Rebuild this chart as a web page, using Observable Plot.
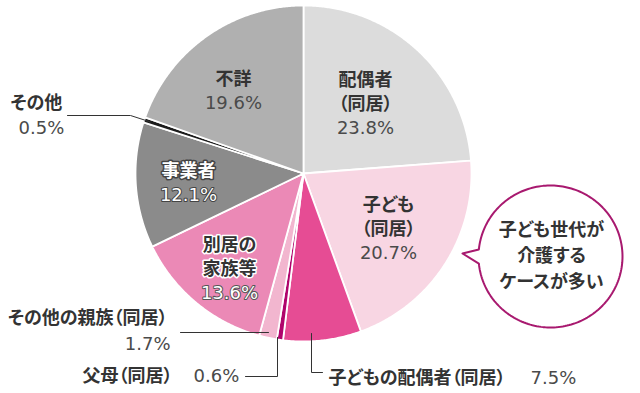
<!DOCTYPE html>
<html><head><meta charset="utf-8">
<script src="https://cdn.jsdelivr.net/npm/d3@7"></script>
<script src="https://cdn.jsdelivr.net/npm/@observablehq/plot@0.6"></script>
<style>
html,body{margin:0;padding:0;background:#fff;}
</style>
</head><body>
<div id="chart"></div>
<script>
// ---- data ----
const categories = ["配偶者（同居）","子ども（同居）","子どもの配偶者（同居）","父母（同居）","その他の親族（同居）","別居の家族等","事業者","その他","不詳"];
const values = [23.8, 20.7, 7.5, 0.6, 1.7, 13.6, 12.1, 0.5, 19.6];
const bubbleLines = ["子ども世代が","介護する","ケースが多い"];

// ---- styles / layout ----
const colors = ["#dcdcdc","#f8d6e3","#e64c94","#b0046c","#f2b6cf","#eb89b6","#8b8b8b","#1c1c1c","#b0b0b0"];
const W = 640, H = 393, cx = 303, cy = 173, R = 168;
const inside = [
  {i:0, lines:["配偶者","（同居）"], dx:62, dy:-45, fill:"#333", halo:null, pfill:"#4a4a4a"},
  {i:1, lines:["子ども","（同居）"], dx:85, dy:80, fill:"#333", halo:null, pfill:"#4a4a4a"},
  {i:5, lines:["別居の","家族等"], dx:-74, dy:120, fill:"#333", halo:"#fff", pfill:"#fff", phalo:"#555"},
  {i:6, lines:["事業者"], dx:-115, dy:22, fill:"#fff", halo:"#444", pfill:"#fff", phalo:"#444"},
  {i:8, lines:["不詳"], dx:-70, dy:-70, fill:"#333", halo:null, pfill:"#4a4a4a"}
];
const outside = [
  {i:7, name:[10,103,"start"], pct:[18,128,"start"], leader:[[67,115],[130,115]]},
  {i:4, name:[167,318,"end"], pct:[170,344,"end"], leader:[[180,332],[268,332]]},
  {i:3, name:[172,376,"end"], pct:[193,376,"start"], leader:[[245,376],[277,376],[277,337]]},
  {i:2, name:[328,378,"start"], pct:[530,378,"start"], leader:[[311,333],[311,372],[322,372]]}
];
const bubble = {cx:550, cy:256, rx:72, ry:71, tip:[462,253], halfBase:0.1, stroke:"#a8196f"};

// ---- geometry from values ----
const total = d3.sum(values);
let acc = 0;
const slices = values.map((v, i) => {
  const a0 = acc / total * 2 * Math.PI; acc += v;
  const a1 = acc / total * 2 * Math.PI;
  return {cat: categories[i], v, a0, a1, mid: (a0 + a1) / 2};
});
const pt = (a, r) => [cx + r * Math.sin(a), cy - r * Math.cos(a)];
const pieRows = [];
slices.forEach(s => {
  pieRows.push({cat: s.cat, x: cx, y: cy});
  const n = Math.max(2, Math.ceil((s.a1 - s.a0) / 0.008));
  for (let k = 0; k <= n; k++) {
    const [x, y] = pt(s.a0 + (s.a1 - s.a0) * k / n, R);
    pieRows.push({cat: s.cat, x, y});
  }
});

const fmt = v => v.toFixed(1) + "%";

const nameRows = [], pctRows = [];
inside.forEach(L => {
  const px = cx + L.dx, py = cy + L.dy;
  const n = L.lines.length;
  L.lines.forEach((t, k) => nameRows.push({x: px, y: py - (n - k) * 24, t, fill: L.fill, halo: L.halo}));
  pctRows.push({x: px, y: py, t: fmt(values[L.i]), fill: L.pfill, halo: L.phalo || null});
});

const outNames = [], outPcts = [], leaderRows = [];
outside.forEach((L, j) => {
  outNames.push({x: L.name[0], y: L.name[1], anchor: L.name[2], t: categories[L.i]});
  outPcts.push({x: L.pct[0], y: L.pct[1], anchor: L.pct[2], t: fmt(values[L.i])});
  L.leader.forEach(([x, y]) => leaderRows.push({g: j, x, y}));
});
{
  const s = slices[7];
  const [x, y] = pt(s.mid, R - 6);
  leaderRows.push({g: 0, x, y});
}

const bubbleRows = [{x: bubble.tip[0], y: bubble.tip[1]}];
{
  const start = Math.PI + bubble.halfBase, end = 3 * Math.PI - bubble.halfBase;
  for (let k = 0; k <= 200; k++) {
    const t = start + (end - start) * k / 200;
    bubbleRows.push({x: bubble.cx + bubble.rx * Math.cos(t), y: bubble.cy + bubble.ry * Math.sin(t)});
  }
}
const bubbleTextRows = bubbleLines.map((t, k) => ({x: bubble.cx + 1, y: bubble.cy - 26 + k * 26, t}));

const font = '"Noto Sans CJK JP", "Noto Sans", sans-serif';
const numFont = '"DejaVu Sans", sans-serif';
const nameSize = 18, pctSize = 18;

const textMarks = [];
textMarks.push(Plot.text(nameRows.filter(d => !d.halo), {x:"x", y:"y", text:"t", fill:"fill", fontSize:nameSize, fontWeight:700, textAnchor:"middle", lineAnchor:"middle"}));
textMarks.push(Plot.text(nameRows.filter(d => d.halo), {x:"x", y:"y", text:"t", fill:"fill", stroke:"halo", strokeWidth:3, fontSize:nameSize, fontWeight:700, textAnchor:"middle", lineAnchor:"middle"}));
textMarks.push(Plot.text(pctRows.filter(d => !d.halo), {x:"x", y:"y", text:"t", fill:"fill", fontSize:pctSize, fontWeight:400, fontFamily:numFont, textAnchor:"middle", lineAnchor:"middle"}));
textMarks.push(Plot.text(pctRows.filter(d => d.halo), {x:"x", y:"y", text:"t", fill:"fill", stroke:"halo", strokeWidth:2, fontSize:pctSize, fontWeight:400, fontFamily:numFont, textAnchor:"middle", lineAnchor:"middle"}));

const chart = Plot.plot({
  width: W, height: H,
  margin: 0,
  x: {domain: [0, W], range: [0, W], axis: null},
  y: {domain: [0, H], range: [0, H], axis: null},
  color: {domain: categories, range: colors},
  style: {fontFamily: font, fontFeatureSettings: '"palt"', background: "#fff"},
  marks: [
    Plot.line(pieRows, {x:"x", y:"y", z:"cat", fill:"cat", stroke:"white", strokeWidth:1.8, strokeLinejoin:"round", curve:"linear-closed"}),
    ...textMarks,
    Plot.line(leaderRows, {x:"x", y:"y", z:"g", stroke:"#333", strokeWidth:1}),
    Plot.text(outNames.filter(d => d.anchor === "start"), {x:"x", y:"y", text:"t", fill:"#333", fontSize:nameSize, fontWeight:700, textAnchor:"start", lineAnchor:"middle"}),
    Plot.text(outNames.filter(d => d.anchor === "end"), {x:"x", y:"y", text:"t", fill:"#333", fontSize:nameSize, fontWeight:700, textAnchor:"end", lineAnchor:"middle"}),
    Plot.text(outPcts.filter(d => d.anchor === "start"), {x:"x", y:"y", text:"t", fill:"#4a4a4a", fontSize:pctSize, fontWeight:400, fontFamily:numFont, textAnchor:"start", lineAnchor:"middle"}),
    Plot.text(outPcts.filter(d => d.anchor === "end"), {x:"x", y:"y", text:"t", fill:"#4a4a4a", fontSize:pctSize, fontWeight:400, fontFamily:numFont, textAnchor:"end", lineAnchor:"middle"}),
    Plot.line(bubbleRows, {x:"x", y:"y", fill:"white", stroke:bubble.stroke, strokeWidth:2, curve:"linear-closed"}),
    Plot.text(bubbleTextRows, {x:"x", y:"y", text:"t", fill:"#333", fontSize:18, fontWeight:700, textAnchor:"middle", lineAnchor:"middle"})
  ]
});
document.getElementById("chart").appendChild(chart);
</script>
</body></html>
